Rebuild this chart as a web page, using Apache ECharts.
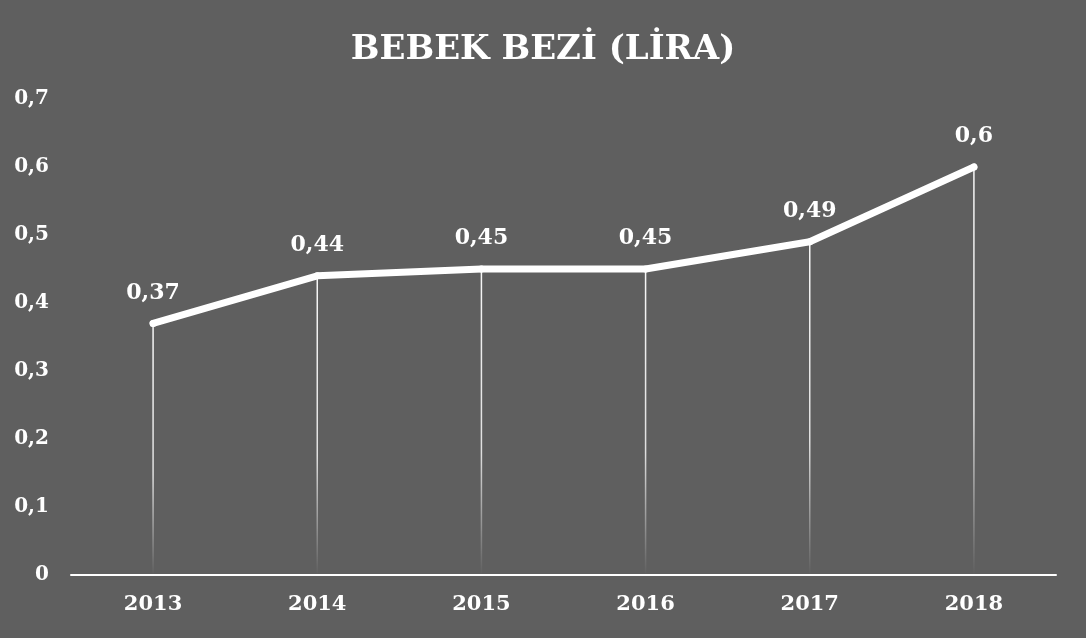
<!DOCTYPE html>
<html>
<head>
<meta charset="utf-8">
<script src="https://cdn.jsdelivr.net/npm/echarts@6/dist/echarts.min.js"></script>
<style>
html,body{margin:0;padding:0;background:#5f5f5f;}
#c{width:1086px;height:638px;}
</style>
</head>
<body>
<div id="c"></div>
<script>
const titleText = 'BEBEK BEZİ (LİRA)';
const categories = ['2013', '2014', '2015', '2016', '2017', '2018'];
const values = [0.37, 0.44, 0.45, 0.45, 0.49, 0.6];
const yTicks = [0, 0.1, 0.2, 0.3, 0.4, 0.5, 0.6, 0.7];

const fmt = v => String(v).replace('.', ',');
const font = '"DejaVu Serif", "Liberation Serif", serif';

const chart = echarts.init(document.getElementById('c'), null, {renderer: 'canvas'});
chart.setOption({
  backgroundColor: '#5f5f5f',
  animation: false,
  title: {
    text: titleText,
    left: 'center',
    top: 28,
    textStyle: {color: '#ffffff', fontFamily: font, fontWeight: 'bold', fontSize: 34}
  },
  grid: {left: 71, right: 30, top: 99, bottom: 63, containLabel: false},
  xAxis: {
    type: 'category',
    data: categories,
    boundaryGap: true,
    axisLine: {show: true, lineStyle: {color: '#ffffff', width: 2}},
    axisTick: {show: false},
    axisLabel: {color: '#ffffff', fontFamily: font, fontWeight: 'bold', fontSize: 21, margin: 19}
  },
  yAxis: {
    type: 'value',
    min: yTicks[0],
    max: yTicks[yTicks.length - 1],
    interval: 0.1,
    splitLine: {show: false},
    axisLine: {show: false},
    axisTick: {show: false},
    axisLabel: {color: '#ffffff', fontFamily: font, fontWeight: 'bold', fontSize: 20, margin: 22,
      formatter: v => fmt(Math.round(v * 10) / 10)}
  },
  series: [
    {
      type: 'bar',
      data: values,
      barWidth: 1.5,
      silent: true,
      itemStyle: {
        color: new echarts.graphic.LinearGradient(0, 0, 0, 1, [
          {offset: 0, color: 'rgba(255,255,255,0.95)'},
          {offset: 0.6, color: 'rgba(255,255,255,0.8)'},
          {offset: 1, color: 'rgba(255,255,255,0)'}
        ])
      },
      z: 1
    },
    {
      type: 'line',
      data: values,
      symbol: 'circle',
      symbolSize: 7,
      itemStyle: {color: '#ffffff'},
      lineStyle: {color: '#ffffff', width: 7, cap: 'round', join: 'round'},
      label: {
        show: true,
        position: 'top',
        distance: 16,
        color: '#ffffff',
        fontFamily: font,
        fontWeight: 'bold',
        fontSize: 22,
        formatter: p => fmt(p.value)
      },
      z: 3
    }
  ]
});
</script>
</body>
</html>
